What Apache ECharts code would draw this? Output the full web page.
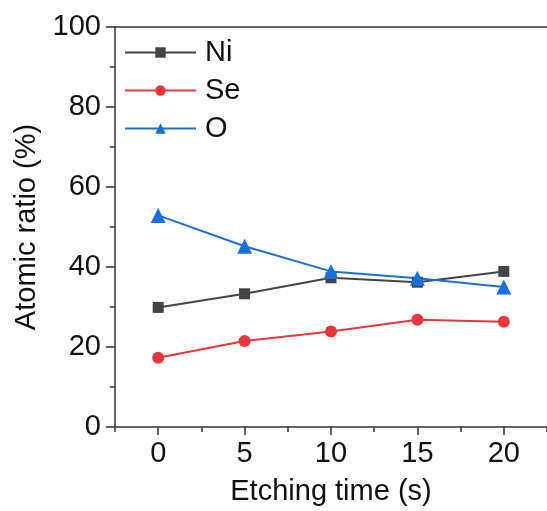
<!DOCTYPE html>
<html><head><meta charset="utf-8">
<script src="https://cdn.jsdelivr.net/npm/echarts@6/dist/echarts.min.js"></script>
<style>html,body{margin:0;padding:0;background:#fff}#c{width:547px;height:511px}</style>
</head><body><div id="c"></div>
<script>
var times = [0, 5, 10, 15, 20];
var ni = [29.9, 33.3, 37.3, 36.2, 38.9];
var se = [17.3, 21.5, 23.9, 26.8, 26.3];
var o = [52.9, 45.2, 38.9, 37.2, 35.0];
var xTicks = [0, 5, 10, 15, 20];
var xMinorTicks = [-2.5, 2.5, 7.5, 12.5, 17.5, 22.5];
var seriesNames = ['Ni', 'Se', 'O'];

function pairs(v){ return times.map(function(t,i){ return [t, v[i]]; }); }
var font = 'Liberation Sans, Arial, sans-serif';
var axisColor = '#333';
var fs = 29;
var chart = echarts.init(document.getElementById('c'), null, {renderer:'canvas'});
chart.setOption({
  animation:false,
  backgroundColor:'#fff',
  grid:{left:115, top:27, width:435, height:401, containLabel:false},
  legend:{
    orient:'vertical', left:119, top:33, itemWidth:71, itemHeight:13, itemGap:9,
    textStyle:{fontFamily:font, fontSize:fs, lineHeight:29, color:'#111', padding:[0,0,0,4]},
    data: seriesNames
  },
  xAxis:[{
    type:'value', min:-2.5, max:22.5, position:'bottom',
    name:'Etching time (s)', nameLocation:'middle', nameGap:50,
    nameTextStyle:{fontFamily:font, fontSize:fs, color:'#111'},
    axisLine:{onZero:false, lineStyle:{color:axisColor, width:1.5}},
    axisTick:{show:true, inside:false, length:8, customValues:xTicks, lineStyle:{color:axisColor, width:1.5}},
    axisLabel:{customValues:xTicks, fontFamily:font, fontSize:fs, color:'#111', margin:12},
    splitLine:{show:false}
  },{
    type:'value', min:-2.5, max:22.5, position:'bottom',
    axisLine:{show:false, onZero:false},
    axisTick:{show:true, length:5, customValues:xMinorTicks, lineStyle:{color:axisColor, width:1.5}},
    axisLabel:{show:false}, splitLine:{show:false}
  },{
    type:'value', min:-2.5, max:22.5, position:'top',
    axisLine:{onZero:false, lineStyle:{color:axisColor, width:1.5}},
    axisTick:{show:false}, axisLabel:{show:false}, splitLine:{show:false}
  }],
  yAxis:{
    type:'value', min:0, max:100, interval:20, position:'left',
    name:'Atomic ratio (%)', nameLocation:'middle', nameGap:64, nameRotate:90,
    nameTextStyle:{fontFamily:font, fontSize:fs, color:'#111'},
    axisLine:{show:true, onZero:false, lineStyle:{color:axisColor, width:1.5}},
    axisTick:{show:true, length:9, lineStyle:{color:axisColor, width:1.5}},
    minorTick:{show:true, splitNumber:2, length:5, lineStyle:{color:axisColor, width:1.5}},
    axisLabel:{fontFamily:font, fontSize:fs, color:'#111', margin:14},
    splitLine:{show:false}
  },
  series:[
    {name:'Ni', type:'line', data:pairs(ni), symbol:'rect', symbolSize:11,
     itemStyle:{color:'#444444'}, lineStyle:{color:'#444444', width:2}},
    {name:'Se', type:'line', data:pairs(se), symbol:'circle', symbolSize:12,
     itemStyle:{color:'#e8363b'}, lineStyle:{color:'#e8363b', width:2}},
    {name:'O', type:'line', data:pairs(o), symbol:'triangle', symbolSize:15,
     itemStyle:{color:'#1a6fdf'}, lineStyle:{color:'#1a6fdf', width:2}}
  ]
});
</script></body></html>
